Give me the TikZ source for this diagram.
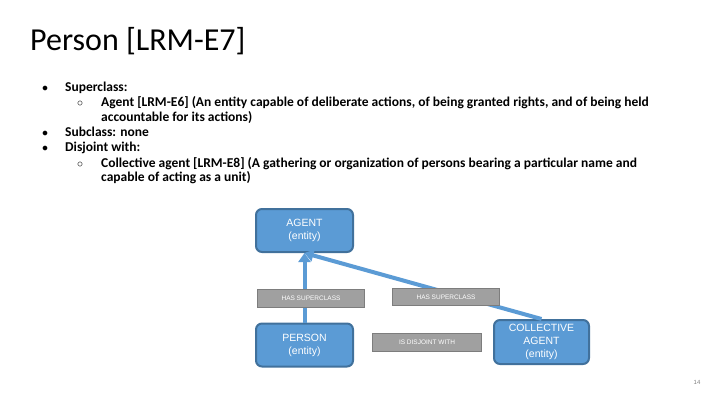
\documentclass[tikz,border=0pt]{standalone}
\usepackage{fontspec}
\setmainfont{Carlito}
\newfontfamily\boxfont{Liberation Sans}
\usetikzlibrary{arrows.meta}
\definecolor{boxblue}{RGB}{91,155,213}
\definecolor{boxedge}{RGB}{65,113,156}
\definecolor{lblfill}{RGB}{160,160,160}
\definecolor{lbledge}{RGB}{125,125,125}
\tikzset{
  entity/.style={draw=boxedge, line width=2pt, fill=boxblue, rounded corners=6pt,
    text=white, font=\boxfont\fontsize{10.5}{13}\selectfont, align=center, inner sep=1pt},
  lbl/.style={draw=lbledge, line width=1.5pt, fill=lblfill, text=white,
    font=\boxfont\fontsize{6.5}{8}\selectfont, inner sep=0pt},
  conn/.style={draw=boxblue, line width=4pt, -{Triangle[length=9pt,width=12pt]}},
  bodytext/.style={anchor=base west, inner sep=0pt, font=\bfseries\fontsize{13.5}{15}\selectfont},
  bul/.style={anchor=base, inner sep=0pt, font=\fontsize{12}{14}\selectfont}
}
\begin{document}
\begin{tikzpicture}[x=1pt,y=-1pt]
\useasboundingbox[fill=white] (0,0) rectangle (720,405);
% title
\node[anchor=base west, inner sep=0pt, font=\fontsize{32}{36}\selectfont] (title) at (30,50) {Person [LRM-E7]};
% bullets
\node[bul] (b1) at (45,91) {$\bullet$};
\node[bul] (b2) at (45,136) {$\bullet$};
\node[bul] (b3) at (45,151) {$\bullet$};
\node[bul] (s1) at (80,106) {$\circ$};
\node[bul] (s2) at (80,167) {$\circ$};
\node[bodytext] (t1) at (65,91) {Superclass:};
\node[bodytext] (t2) at (101,106) {Agent [LRM-E6] (An entity capable of deliberate actions, of being granted rights, and of being held};
\node[bodytext] (t3) at (101,121) {accountable for its actions)};
\node[bodytext] (t4) at (65,136) {Subclass: none};
\node[bodytext] (t5) at (65,151) {Disjoint with:};
\node[bodytext] (t6) at (101,167) {Collective agent [LRM-E8] (A gathering or organization of persons bearing a particular name and};
\node[bodytext] (t7) at (101,181) {capable of acting as a unit)};
% entities
\node[entity, minimum width=97pt, minimum height=43pt] (agent) at (304.5,230.5) {AGENT\\(entity)};
\node[entity, minimum width=97pt, minimum height=43pt] (person) at (304.5,345) {PERSON\\(entity)};
\node[entity, minimum width=95pt, minimum height=44pt] (coll) at (541.5,342) {COLLECTIVE\\AGENT\\(entity)};
% connectors
\draw[conn] (person.north) -- (agent.south);
\draw[conn] (coll.north) -- (agent.south);
% labels
\node[lbl, minimum width=107pt, minimum height=18pt] (l1) at (311,298.5) {HAS SUPERCLASS};
\node[lbl, minimum width=107pt, minimum height=17pt] (l2) at (446,297) {HAS SUPERCLASS};
\node[lbl, minimum width=109pt, minimum height=18pt] (l3) at (427,342.5) {IS DISJOINT WITH};
% page number
\node[inner sep=0pt, text=gray, font=\boxfont\fontsize{6}{7}\selectfont] (pg) at (697,382) {14};
\end{tikzpicture}
\end{document}
